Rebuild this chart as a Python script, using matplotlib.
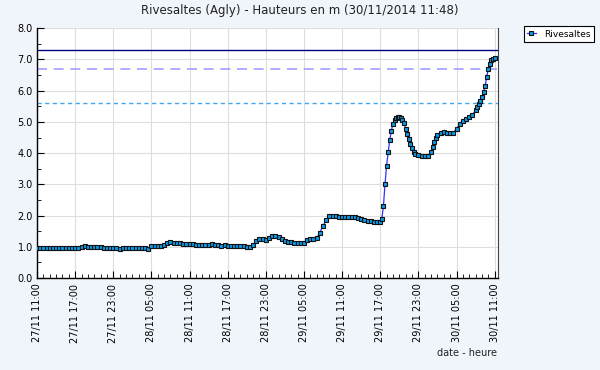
import matplotlib
matplotlib.use("Agg")
import matplotlib.pyplot as plt
import matplotlib.dates as mdates
import numpy as np
import pandas as pd

# ---- data ----
start = "2014-11-27 11:00"
hours = [
    0, 0.5, 1, 1.5, 2, 2.5, 3, 3.5, 4, 4.5, 5, 5.5, 6, 6.5, 7, 7.5, 8, 8.5, 9, 9.5,
    10, 10.5, 11, 11.5, 12, 12.5, 13, 13.5, 14, 14.5, 15, 15.5, 16, 16.5, 17, 17.5,
    18, 18.5, 19, 19.5, 20, 20.5, 21, 21.5, 22, 22.5, 23, 23.5, 24, 24.5, 25, 25.5,
    26, 26.5, 27, 27.5, 28, 28.5, 29, 29.5, 30, 30.5, 31, 31.5, 32, 32.5, 33, 33.5,
    34, 34.5, 35, 35.5, 36, 36.5, 37, 37.5, 38, 38.5, 39, 39.5, 40, 40.5, 41, 41.5,
    42, 42.5, 43, 43.5, 44, 44.5, 45, 45.5, 46, 46.5, 47, 47.5, 48, 48.5, 49, 49.5,
    50, 50.5, 51, 51.5, 52, 52.5, 53, 53.5, 54,
    54.25, 54.5, 54.75, 55, 55.25, 55.5, 55.75, 56, 56.25, 56.5, 56.75, 57, 57.25,
    57.5, 57.75, 58, 58.25, 58.5, 58.75, 59, 59.25, 59.5, 60, 60.5, 61, 61.5, 62,
    62.25, 62.5, 62.75, 63, 63.5, 64, 64.5, 65, 65.5, 66, 66.5, 67, 67.5, 68, 68.5,
    69, 69.25, 69.5, 69.75, 70, 70.25, 70.5, 70.75, 71, 71.25, 71.5, 71.75, 72,
]
levels = [
    0.95, 0.95, 0.95, 0.95, 0.95, 0.95, 0.95, 0.95, 0.96, 0.97, 0.97, 0.97, 0.97, 0.97,
    0.98, 1.01, 1.00, 0.98, 0.99, 0.98, 0.99, 0.97, 0.97, 0.97, 0.96, 0.95, 0.94, 0.96,
    0.96, 0.96, 0.96, 0.96, 0.96, 0.95, 0.95, 0.93, 1.02, 1.03, 1.03, 1.04, 1.06, 1.13,
    1.14, 1.13, 1.12, 1.11, 1.10, 1.10, 1.09, 1.08, 1.07, 1.06, 1.06, 1.05, 1.05, 1.08,
    1.06, 1.05, 1.04, 1.07, 1.04, 1.04, 1.03, 1.03, 1.03, 1.02, 0.98, 1.00, 1.05, 1.18,
    1.24, 1.25, 1.22, 1.27, 1.33, 1.35, 1.32, 1.25, 1.20, 1.16, 1.14, 1.13, 1.12, 1.11,
    1.12, 1.22, 1.24, 1.24, 1.28, 1.45, 1.68, 1.86, 1.98, 2.00, 1.98, 1.97, 1.96, 1.96,
    1.96, 1.95, 1.94, 1.92, 1.88, 1.86, 1.84, 1.82, 1.80, 1.79, 1.80,
    1.90, 2.30, 3.00, 3.60, 4.03, 4.42, 4.72, 4.94, 5.06, 5.14, 5.17, 5.17, 5.12,
    5.06, 4.96, 4.78, 4.60, 4.44, 4.28, 4.15, 4.05, 3.98, 3.93, 3.91, 3.91, 3.92, 4.05,
    4.20, 4.35, 4.48, 4.58, 4.66, 4.68, 4.66, 4.63, 4.65, 4.78, 4.93, 5.04, 5.10, 5.15,
    5.22, 5.38, 5.47, 5.57, 5.68, 5.80, 5.95, 6.15, 6.45, 6.68, 6.85, 6.97, 7.02, 7.05,
]
thresholds = [7.3, 6.7, 5.6]
series_name = "Rivesaltes"
title = "Rivesaltes (Agly) - Hauteurs en m (30/11/2014 11:48)"

times = pd.Timestamp(start) + pd.to_timedelta(hours, unit="h")

# ---- figure ----
bg = "#F0F4FB"
fig = plt.figure(figsize=(6, 3.7), dpi=100, facecolor=bg)
ax = fig.add_axes([0.0617, 0.2486, 0.768, 0.675])
ax.set_facecolor("white")

ax.axhline(thresholds[0], color="#000080", lw=1.0, zorder=2)
ax.axhline(thresholds[1], color="#A0A0FF", lw=1.2, ls=(0, (6, 4)), zorder=2)
ax.axhline(thresholds[2], color="#40A8F0", lw=1.0, ls=(0, (3, 2.5)), zorder=2)

ax.plot(times, levels, color="#3030FF", lw=0.9, marker="s", markersize=3.2,
        markerfacecolor="#0A9BE8", markeredgecolor="#111111", markeredgewidth=0.8,
        label=series_name, zorder=3)

t0 = pd.Timestamp(start)
ax.set_xlim(t0, t0 + pd.Timedelta(hours=72.5))
ax.set_ylim(0, 8)

ax.xaxis.set_major_locator(mdates.HourLocator(byhour=[5, 11, 17, 23]))
ax.xaxis.set_major_formatter(mdates.DateFormatter("%d/%m %H:%M"))
ax.xaxis.set_minor_locator(mdates.HourLocator())
ax.set_yticks(np.arange(0, 8.01, 1.0))
ax.set_yticks(np.arange(0.5, 8, 1.0), minor=True)
ax.yaxis.set_major_formatter(matplotlib.ticker.FormatStrFormatter("%.1f"))

ax.tick_params(axis="both", which="major", direction="in", length=5, width=0.8,
               labelsize=7, color="black")
ax.tick_params(axis="both", which="minor", direction="in", length=3, width=0.6,
               color="black")
ax.tick_params(axis="x", which="major", labelrotation=90, pad=4)
ax.tick_params(axis="y", which="major", pad=3)

ax.grid(True, which="major", color="#DDDDDD", lw=0.8, zorder=0)
ax.set_axisbelow(True)

ax.spines["top"].set_visible(False)
ax.spines["right"].set_color("#444444")
ax.spines["right"].set_linewidth(0.8)
ax.spines["left"].set_linewidth(1.0)
ax.spines["bottom"].set_linewidth(1.0)

fig.text(0.5, 0.972, title, ha="center", va="center", fontsize=8.5, color="#222222")
fig.text(0.829, 0.046, "date - heure", ha="right", va="center", fontsize=7, color="#222222")

leg = fig.legend(loc="upper left", bbox_to_anchor=(0.873, 0.93), fontsize=6.5,
                 frameon=True, fancybox=False, edgecolor="black", framealpha=1,
                 handlelength=0.9, handletextpad=0.9, borderpad=0.4,
                 borderaxespad=0.0, markerscale=0.9)
leg.get_frame().set_linewidth(0.8)

fig.savefig("out.png", dpi=100, facecolor=bg)
